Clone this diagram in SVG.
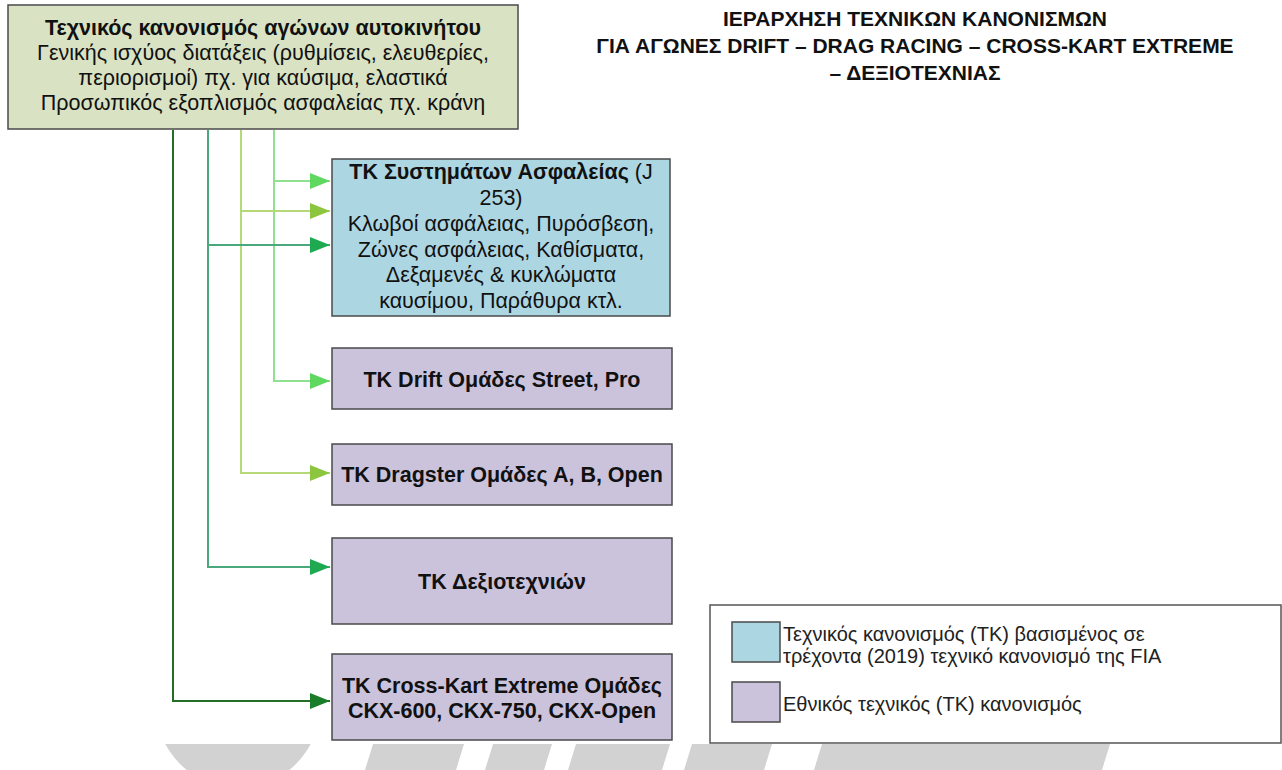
<svg xmlns="http://www.w3.org/2000/svg" width="1282" height="770" viewBox="0 0 1282 770">
<style>
  text { font-family: "Liberation Sans", Arial, sans-serif; fill: #111; }
  .t { font-size: 21.5px; text-anchor: middle; }
  .b { font-weight: bold; }
  .title { font-size: 21px; font-weight: bold; text-anchor: middle; }
  .leg { font-size: 20px; fill: #222; }
  .node { stroke: #4a4a4a; stroke-width: 1.5; }
  .root { fill: #d9e3c4; }
  .fia { fill: #add6e3; }
  .nat { fill: #cbc3dc; }
  .wm { fill: #d2d2d2; }
  .c { fill: none; stroke-width: 2; }
  .c1 { stroke: #8fe08f; }
  .c2 { stroke: #b5d977; }
  .c3 { stroke: #4aa87d; }
  .c4 { stroke: #236e26; }
</style>
<defs>
  <marker id="a1" viewBox="0 0 20 16" refX="20" refY="8" markerWidth="20" markerHeight="16" markerUnits="userSpaceOnUse" orient="auto"><path d="M0,0 L20,8 L0,16 z" fill="#5fd85f"/></marker>
  <marker id="a2" viewBox="0 0 20 16" refX="20" refY="8" markerWidth="20" markerHeight="16" markerUnits="userSpaceOnUse" orient="auto"><path d="M0,0 L20,8 L0,16 z" fill="#8cc63f"/></marker>
  <marker id="a3" viewBox="0 0 20 16" refX="20" refY="8" markerWidth="20" markerHeight="16" markerUnits="userSpaceOnUse" orient="auto"><path d="M0,0 L20,8 L0,16 z" fill="#1faa52"/></marker>
  <marker id="a4" viewBox="0 0 20 16" refX="20" refY="8" markerWidth="20" markerHeight="16" markerUnits="userSpaceOnUse" orient="auto"><path d="M0,0 L20,8 L0,16 z" fill="#1a7d2a"/></marker>
  <clipPath id="wmclip"><rect x="0" y="744" width="1282" height="26"/></clipPath>
</defs>
<rect width="1282" height="770" fill="#fff"/>

<g id="watermark" clip-path="url(#wmclip)">
  <circle class="wm" cx="238" cy="706" r="82"/>
  <polygon class="wm" points="373,744 464,744 456,770 365,770"/>
  <polygon class="wm" points="493,744 552,744 544,770 485,770"/>
  <polygon class="wm" points="576,744 670,744 662,770 568,770"/>
  <polygon class="wm" points="692,744 772,744 764,770 684,770"/>
  <polygon class="wm" points="822,744 1110,744 1102,770 814,770"/>
</g>

<g id="title">
  <text class="title" x="915" y="26">ΙΕΡΑΡΧΗΣΗ ΤΕΧΝΙΚΩΝ ΚΑΝΟΝΙΣΜΩΝ</text>
  <text class="title" x="915" y="53">ΓΙΑ ΑΓΩΝΕΣ DRIFT – DRAG RACING – CROSS-KART EXTREME</text>
  <text class="title" x="915" y="80">– ΔΕΞΙΟΤΕΧΝΙΑΣ</text>
</g>

<g id="connectors">
  <path class="c c1" d="M274,130 V181 H330" marker-end="url(#a1)"/>
  <path class="c c1" d="M274,130 V381 H330" marker-end="url(#a1)"/>
  <path class="c c2" d="M241,130 V211 H330" marker-end="url(#a2)"/>
  <path class="c c2" d="M241,130 V473 H330" marker-end="url(#a2)"/>
  <path class="c c3" d="M208,130 V245 H330" marker-end="url(#a3)"/>
  <path class="c c3" d="M208,130 V567 H330" marker-end="url(#a3)"/>
  <path class="c c4" d="M173,130 V701 H330" marker-end="url(#a4)"/>
</g>

<g id="root">
  <rect class="node root" x="8" y="5" width="510" height="124"/>
  <text class="t b" x="263" y="35">Τεχνικός κανονισμός αγώνων αυτοκινήτου</text>
  <text class="t" x="263" y="60">Γενικής ισχύος διατάξεις (ρυθμίσεις, ελευθερίες,</text>
  <text class="t" x="263" y="85">περιορισμοί) πχ. για καύσιμα, ελαστικά</text>
  <text class="t" x="263" y="110">Προσωπικός εξοπλισμός ασφαλείας πχ. κράνη</text>
</g>

<g id="safety">
  <rect class="node fia" x="332" y="159" width="338" height="157"/>
  <text class="t" x="501" y="179"><tspan class="b">ΤΚ Συστημάτων Ασφαλείας</tspan> (J</text>
  <text class="t" x="501" y="205">253)</text>
  <text class="t" x="501" y="231">Κλωβοί ασφάλειας, Πυρόσβεση,</text>
  <text class="t" x="501" y="257">Ζώνες ασφάλειας, Καθίσματα,</text>
  <text class="t" x="501" y="282">Δεξαμενές &amp; κυκλώματα</text>
  <text class="t" x="501" y="308">καυσίμου, Παράθυρα κτλ.</text>
</g>

<g id="drift">
  <rect class="node nat" x="332" y="348" width="340" height="61"/>
  <text class="t b" x="502" y="387">ΤΚ Drift Ομάδες Street, Pro</text>
</g>

<g id="dragster">
  <rect class="node nat" x="332" y="444" width="340" height="61"/>
  <text class="t b" x="502" y="482">ΤΚ Dragster Ομάδες Α, Β, Open</text>
</g>

<g id="dexiotechnies">
  <rect class="node nat" x="332" y="538" width="340" height="86"/>
  <text class="t b" x="502" y="589">ΤΚ Δεξιοτεχνιών</text>
</g>

<g id="crosskart">
  <rect class="node nat" x="332" y="654" width="340" height="86"/>
  <text class="t b" x="502" y="693">ΤΚ Cross-Kart Extreme Ομάδες</text>
  <text class="t b" x="502" y="718">CKX-600, CKX-750, CKX-Open</text>
</g>

<g id="legend">
  <rect x="710" y="605" width="571" height="138" fill="#fff" stroke="#555" stroke-width="1.5"/>
  <rect class="node fia" x="732" y="622" width="48" height="40"/>
  <rect class="node nat" x="732" y="682" width="48" height="40"/>
  <text class="leg" x="783" y="641">Τεχνικός κανονισμός (ΤΚ) βασισμένος σε</text>
  <text class="leg" x="783" y="663">τρέχοντα (2019) τεχνικό κανονισμό της FIA</text>
  <text class="leg" x="783" y="711">Εθνικός τεχνικός (ΤΚ) κανονισμός</text>
</g>
</svg>
